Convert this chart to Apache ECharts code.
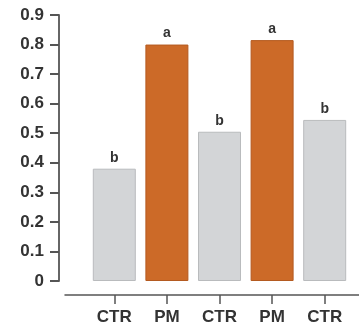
<!DOCTYPE html>
<html>
<head>
<meta charset="utf-8">
<script src="https://cdn.jsdelivr.net/npm/echarts@6/dist/echarts.min.js"></script>
<style>
html,body{margin:0;padding:0;background:#fff;}
#c{width:359px;height:327px;}
</style>
</head>
<body>
<div id="c"></div>
<script>
var categories = ['CTR', 'PM', 'CTR', 'PM', 'CTR'];
var values = [0.38, 0.80, 0.505, 0.815, 0.545];
var letters = ['b', 'a', 'b', 'a', 'b'];
var yTickLabels = ['0', '0.1', '0.2', '0.3', '0.4', '0.5', '0.6', '0.7', '0.8', '0.9'];

var fill = { CTR: '#d3d5d7', PM: '#cc6a28' };
var edge = { CTR: '#b9bbbd', PM: '#b45a20' };

var chart = echarts.init(document.getElementById('c'), null, { renderer: 'canvas' });
var font = 'Liberation Sans, Arial, sans-serif';

chart.setOption({
  animation: false,
  backgroundColor: '#ffffff',
  grid: [
    { left: 88, right: 8, top: 15, bottom: 46 },
    { left: 65, right: 0, top: 15, bottom: 46 }
  ],
  xAxis: [
    {
      type: 'category',
      gridIndex: 0,
      data: categories,
      offset: 14,
      axisLine: { show: false, onZero: false },
      axisTick: { show: true, alignWithLabel: true, length: 9, lineStyle: { color: '#555', width: 1.5 } },
      axisLabel: { color: '#333', fontSize: 17, fontWeight: 'bold', fontFamily: font, margin: 14 }
    },
    {
      type: 'value',
      gridIndex: 1,
      min: 0, max: 1,
      offset: 14,
      axisLine: { show: true, onZero: false, lineStyle: { color: '#555', width: 1.5 } },
      axisTick: { show: false },
      axisLabel: { show: false },
      splitLine: { show: false }
    }
  ],
  yAxis: [
    {
      type: 'value',
      gridIndex: 0,
      min: 0, max: 0.9, interval: 0.1,
      offset: 29,
      axisLine: { show: true, onZero: false, lineStyle: { color: '#666', width: 2 } },
      axisTick: { show: true, length: 9, lineStyle: { color: '#555', width: 2 } },
      axisLabel: {
        color: '#333', fontSize: 17, fontWeight: 'bold', fontFamily: font, margin: 15,
        formatter: function (v) { return yTickLabels[Math.round(v * 10)]; }
      },
      splitLine: { show: false }
    },
    {
      type: 'value',
      gridIndex: 1,
      show: false
    }
  ],
  series: [
    {
      type: 'bar',
      xAxisIndex: 0,
      yAxisIndex: 0,
      barWidth: 43,
      data: values.map(function (v, i) {
        return {
          value: v,
          itemStyle: { color: fill[categories[i]], borderColor: edge[categories[i]], borderWidth: 1 },
          label: { formatter: letters[i] }
        };
      }),
      label: {
        show: true,
        position: 'top',
        distance: 4,
        color: '#333',
        fontSize: 14,
        fontWeight: 'bold',
        fontFamily: font
      }
    }
  ]
});
</script>
</body>
</html>
